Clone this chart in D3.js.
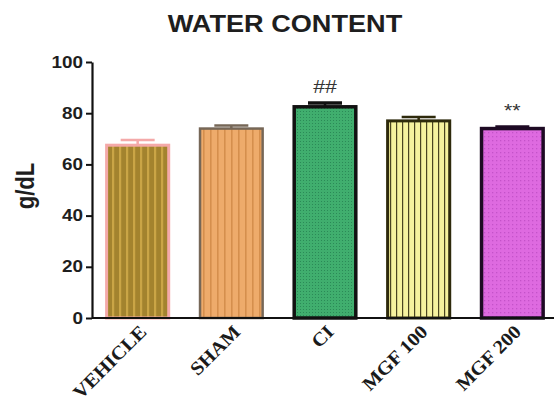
<!DOCTYPE html>
<html>
<head>
<meta charset="utf-8">
<script src="https://cdn.jsdelivr.net/npm/d3@7"></script>
<style>
  html, body { margin: 0; padding: 0; background: #fff; }
  svg { display: block; }
</style>
</head>
<body>
<svg id="chart" width="554" height="407"></svg>
<script>
// Water content per group (g/dL), mean with upper SEM
const categories = ["VEHICLE", "SHAM", "CI", "MGF 100", "MGF 200"];
const means = [67.5, 74.0, 82.5, 77.0, 74.0];
const sems = [2.0, 1.2, 1.5, 1.5, 0.8];
const marks = ["", "", "##", "", "**"];
const yTicks = [0, 20, 40, 60, 80, 100];

// Per-group look: base fill, pattern ink, pattern kind, outline
const styles = [
  { base: "#a3832e", ink: "#caa546", kind: "stripe", step: 7, lw: 2.2, edge: "#f4a9a9", ew: 3 },
  { base: "#eeab6b", ink: "#d58f4d", kind: "stripe", step: 7, lw: 1.6, edge: "#766757", ew: 2.5 },
  { base: "#40ae6e", ink: "#2b8a57", kind: "dots", step: 3, lw: 1, edge: "#111111", ew: 3.5 },
  { base: "#f6f29e", ink: "#4a4420", kind: "stripe", step: 6, lw: 1.2, edge: "#2e2a0c", ew: 3 },
  { base: "#de6ae0", ink: "#c452c9", kind: "dots", step: 4, lw: 1.3, edge: "#1e0a24", ew: 3.5 }
];

const svg = d3.select("#chart");
const sx = 1.18; // glyphs are set slightly wide

const margin = { left: 92, top: 62, bottom: 318 };
const x = d3.scaleBand().domain(categories).range([margin.left, 558]).paddingInner(0.305).paddingOuter(0.14);
const y = d3.scaleLinear().domain([0, 100]).range([margin.bottom, margin.top]);

// Fill patterns
const defs = svg.append("defs");
styles.forEach((s, i) => {
  const p = defs.append("pattern")
    .attr("id", "fill" + i)
    .attr("patternUnits", "userSpaceOnUse")
    .attr("width", s.step).attr("height", s.step);
  p.append("rect").attr("width", s.step).attr("height", s.step).attr("fill", s.base);
  if (s.kind === "stripe") {
    p.append("rect").attr("x", 0).attr("y", 0).attr("width", s.lw).attr("height", s.step).attr("fill", s.ink);
  } else {
    p.append("rect").attr("x", 0).attr("y", 0).attr("width", s.lw).attr("height", s.lw).attr("fill", s.ink);
  }
});

// Title
svg.append("text")
  .attr("transform", `translate(285,32) scale(${sx},1)`)
  .attr("text-anchor", "middle")
  .attr("font-family", "Liberation Sans, Arial, sans-serif")
  .attr("font-weight", "bold")
  .attr("font-size", 23)
  .attr("fill", "#1e1e1e")
  .text("WATER CONTENT");

// Y axis title
svg.append("text")
  .attr("transform", `translate(34,186) scale(${sx},1) rotate(-90)`)
  .attr("text-anchor", "middle")
  .attr("font-family", "Liberation Sans, Arial, sans-serif")
  .attr("font-weight", "bold")
  .attr("font-size", 22)
  .attr("fill", "#1e1e1e")
  .text("g/dL");

// Bars
const data = categories.map((c, i) => ({ c, m: means[i], e: sems[i], mark: marks[i], s: styles[i], i }));
const bars = svg.append("g");

bars.selectAll("rect.bar").data(data).join("rect")
  .attr("class", "bar")
  .attr("x", d => x(d.c) + d.s.ew / 2)
  .attr("y", d => y(d.m))
  .attr("width", d => x.bandwidth() - d.s.ew)
  .attr("height", d => y(0) - y(d.m))
  .attr("fill", d => `url(#fill${d.i})`)
  .attr("stroke", d => d.s.edge)
  .attr("stroke-width", d => d.s.ew);

// Upper error bars
const capW = 34;
bars.selectAll("line.err").data(data).join("line")
  .attr("class", "err")
  .attr("x1", d => x(d.c) + x.bandwidth() / 2)
  .attr("x2", d => x(d.c) + x.bandwidth() / 2)
  .attr("y1", d => y(d.m))
  .attr("y2", d => y(d.m + d.e))
  .attr("stroke", d => d.s.edge)
  .attr("stroke-width", 2.5);
bars.selectAll("line.cap").data(data).join("line")
  .attr("class", "cap")
  .attr("x1", d => x(d.c) + x.bandwidth() / 2 - capW / 2)
  .attr("x2", d => x(d.c) + x.bandwidth() / 2 + capW / 2)
  .attr("y1", d => y(d.m + d.e))
  .attr("y2", d => y(d.m + d.e))
  .attr("stroke", d => d.s.edge)
  .attr("stroke-width", d => d.i === 2 ? 3.5 : 2.5);

// Significance marks
bars.selectAll("text.mark").data(data.filter(d => d.mark)).join("text")
  .attr("class", "mark")
  .attr("transform", d => `translate(${x(d.c) + x.bandwidth() / 2},${y(d.m + d.e) - 10}) scale(${sx},1)`)
  .attr("text-anchor", "middle")
  .attr("font-family", "Liberation Sans, Arial, sans-serif")
  .attr("font-size", 18)
  .attr("fill", "#333")
  .text(d => d.mark);

// Y axis
const yAxis = svg.append("g")
  .attr("transform", `translate(${margin.left},0)`)
  .call(d3.axisLeft(y).tickValues(yTicks).tickSize(6).tickPadding(3).tickSizeOuter(0));
yAxis.select(".domain").attr("stroke", "#111").attr("stroke-width", 2.2);
yAxis.selectAll(".tick line").attr("stroke", "#111").attr("stroke-width", 2);
yAxis.selectAll(".tick text")
  .attr("font-family", "Liberation Sans, Arial, sans-serif")
  .attr("font-weight", "bold")
  .attr("font-size", 16)
  .attr("fill", "#1e1e1e")
  .each(function () {
    const t = d3.select(this);
    const xx = +t.attr("x");
    t.attr("x", null).attr("transform", `translate(${xx},0) scale(${sx},1)`);
  });

// X axis
const xAxis = svg.append("g")
  .attr("transform", `translate(0,${y(0)})`)
  .call(d3.axisBottom(x).tickSize(0).tickSizeOuter(0));
xAxis.select(".domain")
  .attr("d", `M${margin.left},0H554`)
  .attr("stroke", "#111").attr("stroke-width", 2.2);
xAxis.selectAll(".tick text")
  .attr("y", null).attr("dy", null)
  .attr("text-anchor", "end")
  .attr("transform", "translate(10,15) rotate(-45) scale(1.08,1)")
  .attr("font-family", "Liberation Serif, Times New Roman, serif")
  .attr("font-weight", "bold")
  .attr("font-size", 19)
  .attr("fill", "#1a1a1a");
</script>
</body>
</html>
